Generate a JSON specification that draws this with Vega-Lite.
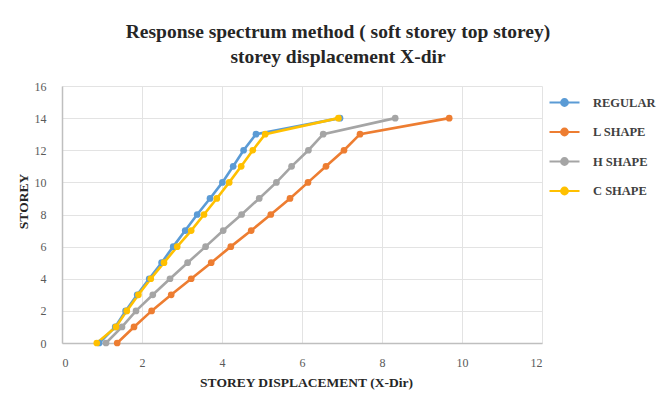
{
  "$schema": "https://vega.github.io/schema/vega-lite/v6.json",
  "autosize": "none",
  "width": 480,
  "height": 257,
  "padding": {"left": 62, "top": 86, "right": 126, "bottom": 55},
  "background": "white",
  "title": {
    "text": ["Response spectrum method ( soft storey top storey)", "storey displacement X-dir"],
    "font": "Liberation Serif",
    "fontSize": 19.5,
    "fontWeight": "bold",
    "color": "#262626",
    "lineHeight": 25,
    "anchor": "middle",
    "dx": 36,
    "offset": 13
  },
  "data": {
    "values": [
      {"series": "REGULAR", "storey": 0, "disp": 0.93},
      {"series": "REGULAR", "storey": 1, "disp": 1.33},
      {"series": "REGULAR", "storey": 2, "disp": 1.59},
      {"series": "REGULAR", "storey": 3, "disp": 1.88},
      {"series": "REGULAR", "storey": 4, "disp": 2.18},
      {"series": "REGULAR", "storey": 5, "disp": 2.49},
      {"series": "REGULAR", "storey": 6, "disp": 2.78},
      {"series": "REGULAR", "storey": 7, "disp": 3.08},
      {"series": "REGULAR", "storey": 8, "disp": 3.38},
      {"series": "REGULAR", "storey": 9, "disp": 3.70},
      {"series": "REGULAR", "storey": 10, "disp": 4.01},
      {"series": "REGULAR", "storey": 11, "disp": 4.28},
      {"series": "REGULAR", "storey": 12, "disp": 4.54},
      {"series": "REGULAR", "storey": 13, "disp": 4.85},
      {"series": "REGULAR", "storey": 14, "disp": 6.95},
      {"series": "L SHAPE", "storey": 0, "disp": 1.38},
      {"series": "L SHAPE", "storey": 1, "disp": 1.80},
      {"series": "L SHAPE", "storey": 2, "disp": 2.24},
      {"series": "L SHAPE", "storey": 3, "disp": 2.73},
      {"series": "L SHAPE", "storey": 4, "disp": 3.23},
      {"series": "L SHAPE", "storey": 5, "disp": 3.73},
      {"series": "L SHAPE", "storey": 6, "disp": 4.22},
      {"series": "L SHAPE", "storey": 7, "disp": 4.73},
      {"series": "L SHAPE", "storey": 8, "disp": 5.22},
      {"series": "L SHAPE", "storey": 9, "disp": 5.70},
      {"series": "L SHAPE", "storey": 10, "disp": 6.15},
      {"series": "L SHAPE", "storey": 11, "disp": 6.60},
      {"series": "L SHAPE", "storey": 12, "disp": 7.05},
      {"series": "L SHAPE", "storey": 13, "disp": 7.45},
      {"series": "L SHAPE", "storey": 14, "disp": 9.68},
      {"series": "H SHAPE", "storey": 0, "disp": 1.10},
      {"series": "H SHAPE", "storey": 1, "disp": 1.50},
      {"series": "H SHAPE", "storey": 2, "disp": 1.85},
      {"series": "H SHAPE", "storey": 3, "disp": 2.27},
      {"series": "H SHAPE", "storey": 4, "disp": 2.70},
      {"series": "H SHAPE", "storey": 5, "disp": 3.14},
      {"series": "H SHAPE", "storey": 6, "disp": 3.59},
      {"series": "H SHAPE", "storey": 7, "disp": 4.03},
      {"series": "H SHAPE", "storey": 8, "disp": 4.49},
      {"series": "H SHAPE", "storey": 9, "disp": 4.93},
      {"series": "H SHAPE", "storey": 10, "disp": 5.36},
      {"series": "H SHAPE", "storey": 11, "disp": 5.74},
      {"series": "H SHAPE", "storey": 12, "disp": 6.16},
      {"series": "H SHAPE", "storey": 13, "disp": 6.53},
      {"series": "H SHAPE", "storey": 14, "disp": 8.33},
      {"series": "C SHAPE", "storey": 0, "disp": 0.87},
      {"series": "C SHAPE", "storey": 1, "disp": 1.35},
      {"series": "C SHAPE", "storey": 2, "disp": 1.62},
      {"series": "C SHAPE", "storey": 3, "disp": 1.91},
      {"series": "C SHAPE", "storey": 4, "disp": 2.22},
      {"series": "C SHAPE", "storey": 5, "disp": 2.55},
      {"series": "C SHAPE", "storey": 6, "disp": 2.88},
      {"series": "C SHAPE", "storey": 7, "disp": 3.23},
      {"series": "C SHAPE", "storey": 8, "disp": 3.55},
      {"series": "C SHAPE", "storey": 9, "disp": 3.87},
      {"series": "C SHAPE", "storey": 10, "disp": 4.18},
      {"series": "C SHAPE", "storey": 11, "disp": 4.48},
      {"series": "C SHAPE", "storey": 12, "disp": 4.77},
      {"series": "C SHAPE", "storey": 13, "disp": 5.08},
      {"series": "C SHAPE", "storey": 14, "disp": 6.91}
    ]
  },
  "mark": {"type": "line", "strokeWidth": 2.6, "point": {"filled": true, "size": 45, "opacity": 1}},
  "encoding": {
    "x": {
      "field": "disp", "type": "quantitative",
      "scale": {"domain": [0, 12], "nice": false},
      "axis": {
        "values": [0, 2, 4, 6, 8, 10, 12],
        "title": "STOREY DISPLACEMENT (X-Dir)",
        "titleFont": "Liberation Serif", "titleFontSize": 13.5, "titleFontWeight": "bold", "titleColor": "#262626",
        "titleX": 244, "titlePadding": 7,
        "labelFont": "Liberation Serif", "labelFontSize": 12, "labelColor": "#595959", "labelPadding": 14,
        "ticks": false, "domainColor": "#bfbfbf", "domainWidth": 1.5,
        "grid": true, "gridColor": "#e3e3e3"
      }
    },
    "y": {
      "field": "storey", "type": "quantitative",
      "scale": {"domain": [0, 16], "nice": false},
      "axis": {
        "values": [0, 2, 4, 6, 8, 10, 12, 14, 16],
        "title": "STOREY",
        "titleFont": "Liberation Serif", "titleFontSize": 13.5, "titleFontWeight": "bold", "titleColor": "#262626",
        "titleY": 115, "titleX": -39, "titleAngle": -90, "titleBaseline": "middle", "titleAlign": "center",
        "labelFont": "Liberation Serif", "labelFontSize": 12, "labelColor": "#595959", "labelPadding": 16,
        "ticks": false, "domainColor": "#bfbfbf", "domainWidth": 1.5,
        "grid": true, "gridColor": "#e3e3e3"
      }
    },
    "color": {
      "field": "series", "type": "nominal",
      "scale": {
        "domain": ["REGULAR", "L SHAPE", "H SHAPE", "C SHAPE"],
        "range": ["#5B9BD5", "#ED7D31", "#A5A5A5", "#FFC000"]
      },
      "legend": {
        "title": null,
        "orient": "none",
        "legendX": 486,
        "legendY": 0,
        "symbolType": "M-1,0L1,0M-0.22,0A0.22,0.22 0 1 1 0.22,0A0.22,0.22 0 1 1 -0.22,0Z",
        "symbolSize": 900,
        "symbolStrokeWidth": 2.2,
        "symbolOffset": 0,
        "labelOffset": 12,
        "labelFont": "Liberation Serif", "labelFontSize": 12.5, "labelFontWeight": "bold", "labelColor": "#404040",
        "rowPadding": 4.5,
        "encode": {
          "symbols": {"update": {"stroke": {"scale": "color", "field": "value"}, "fill": {"scale": "color", "field": "value"}, "opacity": {"value": 1}}}
        }
      }
    },
    "order": {"field": "storey", "type": "quantitative"}
  },
  "config": {"view": {"stroke": null}}
}
